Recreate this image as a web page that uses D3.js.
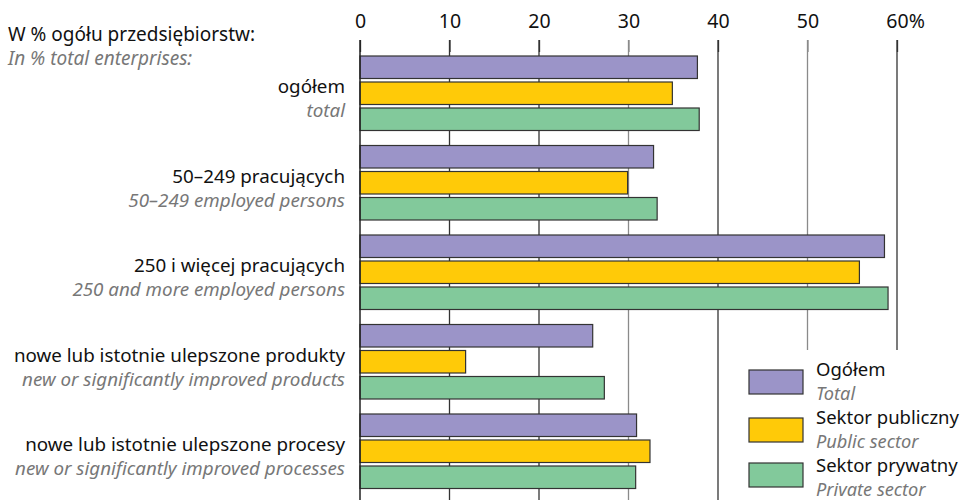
<!DOCTYPE html>
<html><head><meta charset="utf-8">
<script src="https://cdn.jsdelivr.net/npm/d3@7"></script>
<style>body{margin:0;background:#fff}svg{display:block}</style>
</head><body>
<script>
const categoriesPL = ["ogółem","50–249 pracujących","250 i więcej pracujących","nowe lub istotnie ulepszone produkty","nowe lub istotnie ulepszone procesy"];
const categoriesEN = ["total","50–249 employed persons","250 and more employed persons","new or significantly improved products","new or significantly improved processes"];
const seriesNamesPL = ["Ogółem","Sektor publiczny","Sektor prywatny"];
const seriesNamesEN = ["Total","Public sector","Private sector"];
const totalValues   = [37.7, 32.8, 58.6, 26.0, 30.9];
const publicValues  = [34.9, 29.9, 55.8, 11.8, 32.4];
const privateValues = [37.9, 33.2, 59.0, 27.3, 30.8];
const tickValues = [0,10,20,30,40,50,60];
const tickLabels = ["0","10","20","30","40","50","60%"];
const colors = ["#9b94c8","#ffca08","#82c99b"];
const FONT = "'Noto Sans', sans-serif";

const W=965,H=500;
const svg=d3.select("body").append("svg").attr("width",W).attr("height",H).style("font-family",FONT);
const x=d3.scaleLinear().domain([0,60]).range([360,897]);
const series=[totalValues,publicValues,privateValues];

// gridlines
const gridColor=v=> (v===30||v===50)?"#8a8a8a":"#333";
svg.append("g").selectAll("line").data(tickValues.slice(1)).join("line")
  .attr("x1",d=>x(d)).attr("x2",d=>x(d)).attr("y1",40).attr("y2",H)
  .attr("stroke",d=>gridColor(d)).attr("stroke-width",1.3);

// top axis
const axis=d3.axisTop(x).tickValues(tickValues).tickSize(12).tickFormat((d,i)=>tickLabels[i]);
const ax=svg.append("g").attr("transform","translate(0,52)").call(axis);
ax.select(".domain").remove();
ax.selectAll(".tick line").attr("stroke",d=>gridColor(d)).attr("stroke-width",1.3);
ax.selectAll(".tick text").attr("fill","#111").style("font-size","19.5px").style("font-family",FONT).attr("y",-24).attr("dy",0);
ax.selectAll(".tick text").filter((d,i)=>i===tickLabels.length-1).each(function(){
  const t=d3.select(this); t.text("60"); const w=this.getComputedTextLength(); t.text("60%").attr("text-anchor","start").attr("x",-w/2);
});

// bars
const bh=22.5, pitch=26;
const grp=svg.append("g");
series.forEach((vals,si)=>{
  grp.selectAll(null).data(vals).join("rect")
    .attr("x",x(0)).attr("y",(d,i)=>56+i*89.5+si*pitch)
    .attr("width",d=>x(d)-x(0)).attr("height",bh)
    .attr("fill",colors[si]).attr("stroke","#333").attr("stroke-width",1.2);
});
// zero axis line
svg.append("line").attr("x1",x(0)).attr("x2",x(0)).attr("y1",40).attr("y2",H).attr("stroke","#222").attr("stroke-width",1.5);

// category labels
const lab=svg.append("g").attr("text-anchor","end").style("font-size","18.8px");
lab.selectAll(null).data(categoriesPL).join("text").attr("x",345).attr("y",(d,i)=>93+i*89.5).attr("fill","#111").text(d=>d);
lab.selectAll(null).data(categoriesEN).join("text").attr("x",345).attr("y",(d,i)=>117+i*89.5).attr("fill","#777").style("font-style","italic").text(d=>d);

// header
svg.append("text").attr("x",8).attr("y",41).style("font-size","19px").attr("fill","#111").text("W % ogółu przedsiębiorstw:");
svg.append("text").attr("x",8).attr("y",65).style("font-size","19px").style("font-style","italic").attr("fill","#777").text("In % total enterprises:");

// legend
const lg=svg.append("g");
lg.append("rect").attr("x",738).attr("y",350).attr("width",W-738).attr("height",H-350).attr("fill","#fff");
const ly=[370,418,463];
const lty=[376,424,472];
seriesNamesPL.forEach((n,i)=>{
  lg.append("rect").attr("x",749).attr("y",ly[i]).attr("width",54).attr("height",24).attr("fill",colors[i]).attr("stroke","#333").attr("stroke-width",1.2);
  lg.append("text").attr("x",816).attr("y",lty[i]).style("font-size","18.5px").attr("fill","#111").text(n);
  lg.append("text").attr("x",816).attr("y",lty[i]+24).style("font-size","18.2px").style("font-style","italic").attr("fill","#777").text(seriesNamesEN[i]);
});
</script>
</body></html>
